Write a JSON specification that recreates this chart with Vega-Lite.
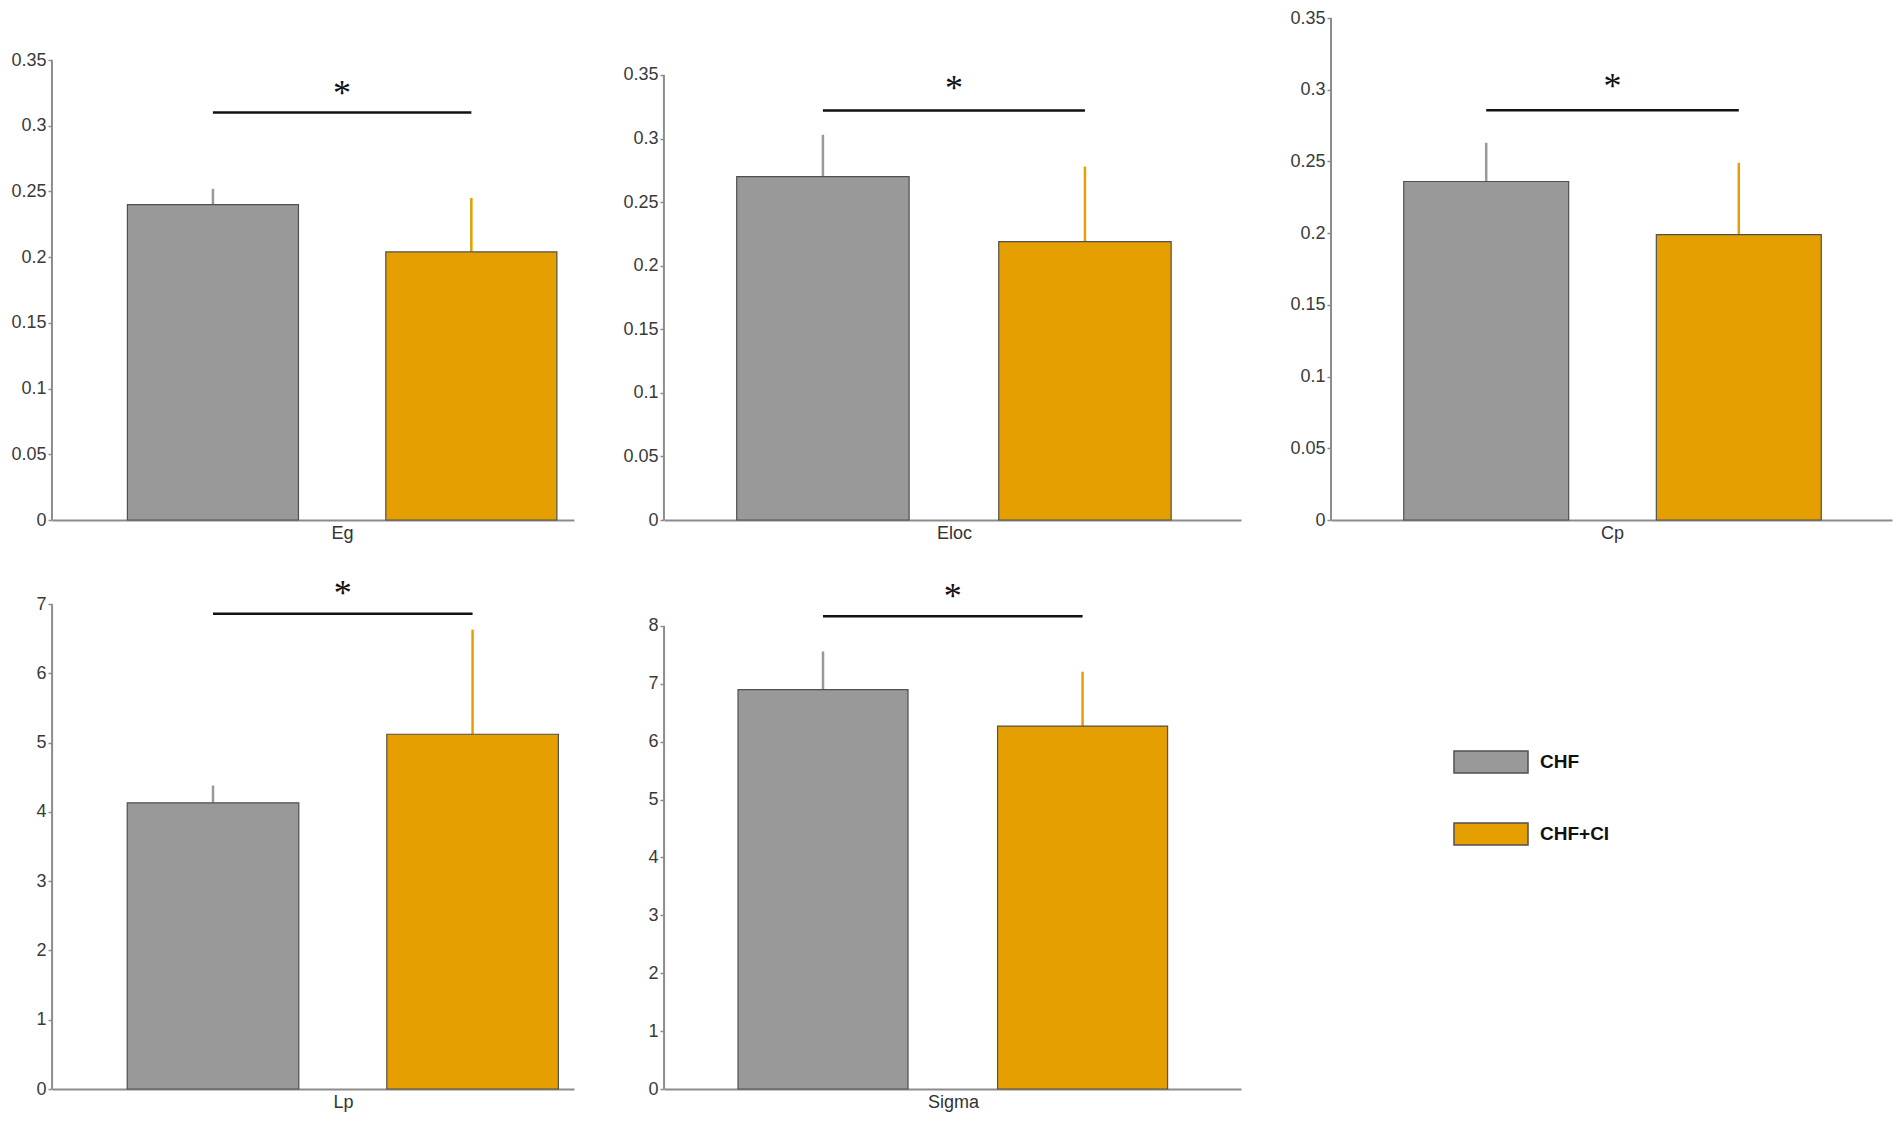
{
  "$schema": "https://vega.github.io/schema/vega-lite/v6.json",
  "background": "white",
  "padding": {"left": 10, "top": 9, "right": 5, "bottom": 5},
  "datasets": {
    "stats": [
      {"measure": "Eg", "group": "CHF", "mean": 0.240, "upper": 0.252},
      {"measure": "Eg", "group": "CHF+CI", "mean": 0.204, "upper": 0.245},
      {"measure": "Eloc", "group": "CHF", "mean": 0.270, "upper": 0.303},
      {"measure": "Eloc", "group": "CHF+CI", "mean": 0.219, "upper": 0.278},
      {"measure": "Cp", "group": "CHF", "mean": 0.236, "upper": 0.263},
      {"measure": "Cp", "group": "CHF+CI", "mean": 0.199, "upper": 0.249},
      {"measure": "Lp", "group": "CHF", "mean": 4.13, "upper": 4.38},
      {"measure": "Lp", "group": "CHF+CI", "mean": 5.12, "upper": 6.63},
      {"measure": "Sigma", "group": "CHF", "mean": 6.90, "upper": 7.56},
      {"measure": "Sigma", "group": "CHF+CI", "mean": 6.27, "upper": 7.21}
    ],
    "sig": [
      {"measure": "Eg", "level": 0.310, "top": 0.35},
      {"measure": "Eloc", "level": 0.322, "top": 0.35},
      {"measure": "Cp", "level": 0.2856, "top": 0.35},
      {"measure": "Lp", "level": 6.86, "top": 7},
      {"measure": "Sigma", "level": 8.17, "top": 8}
    ]
  },
  "bounds": "flush",
  "columns": 3,
  "spacing": {"row": 84, "column": 90},
  "concat": [
    {
      "width": 522,
      "height": 502,
      "layer": [
        {
          "data": {"name": "stats"},
          "transform": [{"filter": "datum.measure === 'Eg'"}],
          "layer": [
            {
              "mark": {"type": "rule", "strokeWidth": 2.5},
              "encoding": {
                "x": {"field": "group", "type": "nominal", "scale": {"domain": ["CHF", "CHF+CI"], "paddingInner": 0.338, "paddingOuter": 0.179, "align": 0.815}},
                "y": {"field": "mean", "type": "quantitative", "title": null, "scale": {"domain": [0, 0.38196], "nice": false}},
                "y2": {"field": "upper"},
                "stroke": {"condition": {"test": "datum.group === 'CHF'", "value": "#999999"}, "value": "#E69F00"}
              }
            },
            {
              "mark": {"type": "bar", "stroke": "#505050", "strokeWidth": 1.2},
              "encoding": {
                "x": {"field": "group", "type": "nominal", "scale": {"domain": ["CHF", "CHF+CI"], "paddingInner": 0.338, "paddingOuter": 0.179, "align": 0.815}, "axis": {"labels": false, "ticks": false, "title": "Eg", "titleX": 290}},
                "y": {"field": "mean", "type": "quantitative", "title": null, "scale": {"domain": [0, 0.38196], "nice": false}, "axis": {"values": [0, 0.05, 0.1, 0.15, 0.2, 0.25, 0.3, 0.35], "format": "~g", "domain": false}},
                "color": {"field": "group", "type": "nominal", "title": null, "scale": {"domain": ["CHF", "CHF+CI"], "range": ["#999999", "#E69F00"]}}
              }
            }
          ]
        },
        {
          "data": {"name": "sig"},
          "transform": [{"filter": "datum.measure === 'Eg'"}],
          "layer": [
            {
              "mark": {"type": "rule", "strokeWidth": 2, "color": "#8c8c8c"},
              "encoding": {
                "x": {"datum": "CHF", "type": "nominal", "bandPosition": -0.441},
                "y": {"field": "top", "type": "quantitative", "title": null},
                "y2": {"datum": 0}
              }
            },
            {
              "mark": {"type": "rule", "strokeWidth": 2.5, "color": "#111111"},
              "encoding": {
                "x": {"datum": "CHF", "type": "nominal"},
                "x2": {"datum": "CHF+CI"},
                "y": {"field": "level", "type": "quantitative", "title": null}
              }
            },
            {
              "mark": {"type": "text", "text": "*", "font": "Liberation Serif", "fontSize": 36, "baseline": "middle", "dy": -19, "color": "#111111"},
              "encoding": {
                "x": {"datum": "CHF", "type": "nominal", "bandPosition": 1.255},
                "y": {"field": "level", "type": "quantitative", "title": null}
              }
            }
          ]
        }
      ]
    },
    {
      "width": 577,
      "height": 502,
      "layer": [
        {
          "data": {"name": "stats"},
          "transform": [{"filter": "datum.measure === 'Eloc'"}],
          "layer": [
            {
              "mark": {"type": "rule", "strokeWidth": 2.5},
              "encoding": {
                "x": {"field": "group", "type": "nominal", "scale": {"domain": ["CHF", "CHF+CI"], "paddingInner": 0.342, "paddingOuter": 0.272, "align": 0.51}},
                "y": {"field": "mean", "type": "quantitative", "title": null, "scale": {"domain": [0, 0.39483], "nice": false}},
                "y2": {"field": "upper"},
                "stroke": {"condition": {"test": "datum.group === 'CHF'", "value": "#999999"}, "value": "#E69F00"}
              }
            },
            {
              "mark": {"type": "bar", "stroke": "#505050", "strokeWidth": 1.2},
              "encoding": {
                "x": {"field": "group", "type": "nominal", "scale": {"domain": ["CHF", "CHF+CI"], "paddingInner": 0.342, "paddingOuter": 0.272, "align": 0.51}, "axis": {"labels": false, "ticks": false, "title": "Eloc", "titleX": 290}},
                "y": {"field": "mean", "type": "quantitative", "title": null, "scale": {"domain": [0, 0.39483], "nice": false}, "axis": {"values": [0, 0.05, 0.1, 0.15, 0.2, 0.25, 0.3, 0.35], "format": "~g", "domain": false}},
                "color": {"field": "group", "type": "nominal", "title": null}
              }
            }
          ]
        },
        {
          "data": {"name": "sig"},
          "transform": [{"filter": "datum.measure === 'Eloc'"}],
          "layer": [
            {
              "mark": {"type": "rule", "strokeWidth": 2, "color": "#8c8c8c"},
              "encoding": {
                "x": {"datum": "CHF", "type": "nominal", "bandPosition": -0.422},
                "y": {"field": "top", "type": "quantitative", "title": null},
                "y2": {"datum": 0}
              }
            },
            {
              "mark": {"type": "rule", "strokeWidth": 2.5, "color": "#111111"},
              "encoding": {
                "x": {"datum": "CHF", "type": "nominal"},
                "x2": {"datum": "CHF+CI"},
                "y": {"field": "level", "type": "quantitative", "title": null}
              }
            },
            {
              "mark": {"type": "text", "text": "*", "font": "Liberation Serif", "fontSize": 36, "baseline": "middle", "dy": -22, "color": "#111111"},
              "encoding": {
                "x": {"datum": "CHF", "type": "nominal", "bandPosition": 1.26},
                "y": {"field": "level", "type": "quantitative", "title": null}
              }
            }
          ]
        }
      ]
    },
    {
      "width": 561,
      "height": 502,
      "layer": [
        {
          "data": {"name": "stats"},
          "transform": [{"filter": "datum.measure === 'Cp'"}],
          "layer": [
            {
              "mark": {"type": "rule", "strokeWidth": 2.5},
              "encoding": {
                "x": {"field": "group", "type": "nominal", "scale": {"domain": ["CHF", "CHF+CI"], "paddingInner": 0.347, "paddingOuter": 0.284, "align": 0.507}},
                "y": {"field": "mean", "type": "quantitative", "title": null, "scale": {"domain": [0, 0.35], "nice": false}},
                "y2": {"field": "upper"},
                "stroke": {"condition": {"test": "datum.group === 'CHF'", "value": "#999999"}, "value": "#E69F00"}
              }
            },
            {
              "mark": {"type": "bar", "stroke": "#505050", "strokeWidth": 1.2},
              "encoding": {
                "x": {"field": "group", "type": "nominal", "scale": {"domain": ["CHF", "CHF+CI"], "paddingInner": 0.347, "paddingOuter": 0.284, "align": 0.507}, "axis": {"labels": false, "ticks": false, "title": "Cp", "titleX": 281}},
                "y": {"field": "mean", "type": "quantitative", "title": null, "scale": {"domain": [0, 0.35], "nice": false}, "axis": {"values": [0, 0.05, 0.1, 0.15, 0.2, 0.25, 0.3, 0.35], "format": "~g", "domain": false}},
                "color": {"field": "group", "type": "nominal", "title": null}
              }
            }
          ]
        },
        {
          "data": {"name": "sig"},
          "transform": [{"filter": "datum.measure === 'Cp'"}],
          "layer": [
            {
              "mark": {"type": "rule", "strokeWidth": 2, "color": "#8c8c8c"},
              "encoding": {
                "x": {"datum": "CHF", "type": "nominal", "bandPosition": -0.441},
                "y": {"field": "top", "type": "quantitative", "title": null},
                "y2": {"datum": 0}
              }
            },
            {
              "mark": {"type": "rule", "strokeWidth": 2.5, "color": "#111111"},
              "encoding": {
                "x": {"datum": "CHF", "type": "nominal"},
                "x2": {"datum": "CHF+CI"},
                "y": {"field": "level", "type": "quantitative", "title": null}
              }
            },
            {
              "mark": {"type": "text", "text": "*", "font": "Liberation Serif", "fontSize": 36, "baseline": "middle", "dy": -23, "color": "#111111"},
              "encoding": {
                "x": {"datum": "CHF", "type": "nominal", "bandPosition": 1.266},
                "y": {"field": "level", "type": "quantitative", "title": null}
              }
            }
          ]
        }
      ]
    },
    {
      "width": 522,
      "height": 485,
      "layer": [
        {
          "data": {"name": "stats"},
          "transform": [{"filter": "datum.measure === 'Lp'"}],
          "layer": [
            {
              "mark": {"type": "rule", "strokeWidth": 2.5},
              "encoding": {
                "x": {"field": "group", "type": "nominal", "scale": {"domain": ["CHF", "CHF+CI"], "paddingInner": 0.339, "paddingOuter": 0.175, "align": 0.828}},
                "y": {"field": "mean", "type": "quantitative", "title": null, "scale": {"domain": [0, 7], "nice": false}},
                "y2": {"field": "upper"},
                "stroke": {"condition": {"test": "datum.group === 'CHF'", "value": "#999999"}, "value": "#E69F00"}
              }
            },
            {
              "mark": {"type": "bar", "stroke": "#505050", "strokeWidth": 1.2},
              "encoding": {
                "x": {"field": "group", "type": "nominal", "scale": {"domain": ["CHF", "CHF+CI"], "paddingInner": 0.339, "paddingOuter": 0.175, "align": 0.828}, "axis": {"labels": false, "ticks": false, "title": "Lp", "titleX": 291}},
                "y": {"field": "mean", "type": "quantitative", "title": null, "scale": {"domain": [0, 7], "nice": false}, "axis": {"values": [0, 1, 2, 3, 4, 5, 6, 7], "format": "~g", "domain": false}},
                "color": {"field": "group", "type": "nominal", "title": null}
              }
            }
          ]
        },
        {
          "data": {"name": "sig"},
          "transform": [{"filter": "datum.measure === 'Lp'"}],
          "layer": [
            {
              "mark": {"type": "rule", "strokeWidth": 2, "color": "#8c8c8c"},
              "encoding": {
                "x": {"datum": "CHF", "type": "nominal", "bandPosition": -0.438},
                "y": {"field": "top", "type": "quantitative", "title": null},
                "y2": {"datum": 0}
              }
            },
            {
              "mark": {"type": "rule", "strokeWidth": 2.5, "color": "#111111"},
              "encoding": {
                "x": {"datum": "CHF", "type": "nominal"},
                "x2": {"datum": "CHF+CI"},
                "y": {"field": "level", "type": "quantitative", "title": null}
              }
            },
            {
              "mark": {"type": "text", "text": "*", "font": "Liberation Serif", "fontSize": 36, "baseline": "middle", "dy": -20, "color": "#111111"},
              "encoding": {
                "x": {"datum": "CHF", "type": "nominal", "bandPosition": 1.256},
                "y": {"field": "level", "type": "quantitative", "title": null}
              }
            }
          ]
        }
      ]
    },
    {
      "width": 577,
      "height": 485,
      "layer": [
        {
          "data": {"name": "stats"},
          "transform": [{"filter": "datum.measure === 'Sigma'"}],
          "layer": [
            {
              "mark": {"type": "rule", "strokeWidth": 2.5},
              "encoding": {
                "x": {"field": "group", "type": "nominal", "scale": {"domain": ["CHF", "CHF+CI"], "paddingInner": 0.345, "paddingOuter": 0.284, "align": 0.502}},
                "y": {"field": "mean", "type": "quantitative", "title": null, "scale": {"domain": [0, 8.3801], "nice": false}},
                "y2": {"field": "upper"},
                "stroke": {"condition": {"test": "datum.group === 'CHF'", "value": "#999999"}, "value": "#E69F00"}
              }
            },
            {
              "mark": {"type": "bar", "stroke": "#505050", "strokeWidth": 1.2},
              "encoding": {
                "x": {"field": "group", "type": "nominal", "scale": {"domain": ["CHF", "CHF+CI"], "paddingInner": 0.345, "paddingOuter": 0.284, "align": 0.502}, "axis": {"labels": false, "ticks": false, "title": "Sigma", "titleX": 289}},
                "y": {"field": "mean", "type": "quantitative", "title": null, "scale": {"domain": [0, 8.3801], "nice": false}, "axis": {"values": [0, 1, 2, 3, 4, 5, 6, 7, 8], "format": "~g", "domain": false}},
                "color": {"field": "group", "type": "nominal", "title": null}
              }
            }
          ]
        },
        {
          "data": {"name": "sig"},
          "transform": [{"filter": "datum.measure === 'Sigma'"}],
          "layer": [
            {
              "mark": {"type": "rule", "strokeWidth": 2, "color": "#8c8c8c"},
              "encoding": {
                "x": {"datum": "CHF", "type": "nominal", "bandPosition": -0.435},
                "y": {"field": "top", "type": "quantitative", "title": null},
                "y2": {"datum": 0}
              }
            },
            {
              "mark": {"type": "rule", "strokeWidth": 2.5, "color": "#111111"},
              "encoding": {
                "x": {"datum": "CHF", "type": "nominal"},
                "x2": {"datum": "CHF+CI"},
                "y": {"field": "level", "type": "quantitative", "title": null}
              }
            },
            {
              "mark": {"type": "text", "text": "*", "font": "Liberation Serif", "fontSize": 36, "baseline": "middle", "dy": -19, "color": "#111111"},
              "encoding": {
                "x": {"datum": "CHF", "type": "nominal", "bandPosition": 1.263},
                "y": {"field": "level", "type": "quantitative", "title": null}
              }
            }
          ]
        }
      ]
    }
  ],
  "config": {
    "font": "Liberation Sans",
    "view": {"stroke": null},
    "axis": {
      "grid": false,
      "domainColor": "#8c8c8c",
      "domainWidth": 2,
      "tickColor": "#8c8c8c",
      "tickSize": 4,
      "tickWidth": 1.5,
      "labelFont": "Liberation Sans",
      "labelFontSize": 18,
      "labelColor": "#3a3a3a",
      "labelPadding": 2,
      "titleFont": "Liberation Sans",
      "titleFontSize": 18,
      "titleFontWeight": "normal",
      "titleColor": "#333333",
      "titlePadding": 4
    },
    "legend": {
      "orient": "none",
      "legendX": 1401,
      "legendY": 706,
      "direction": "vertical",
      "symbolType": "M-1,-0.297H1V0.297H-1Z",
      "symbolSize": 5476,
      "symbolStrokeColor": "#505050",
      "symbolStrokeWidth": 1.5,
      "symbolOpacity": 1,
      "labelFont": "Liberation Sans",
      "labelFontSize": 19,
      "labelFontWeight": "bold",
      "labelColor": "#111111",
      "labelOffset": 11,
      "rowPadding": 20
    }
  }
}
